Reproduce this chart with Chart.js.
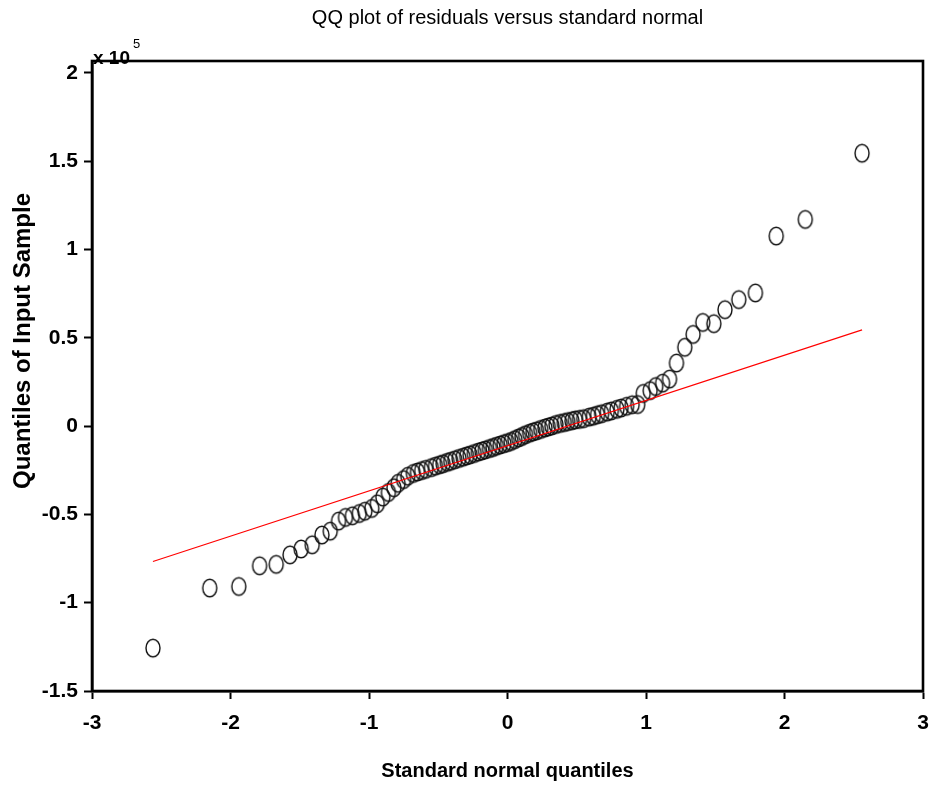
<!DOCTYPE html>
<html>
<head>
<meta charset="utf-8">
<script src="https://cdn.jsdelivr.net/npm/chart.js@4/dist/chart.umd.min.js"></script>
<style>
  html, body { margin: 0; padding: 0; background: #fff; }
  canvas { display: block; }
</style>
</head>
<body>
<canvas id="qq" width="933" height="789"></canvas>
<script>
// theoretical standard normal quantiles (x) and sorted residuals (y)
var normalQuantiles = [
    -2.56, -2.15, -1.94, -1.79, -1.67, -1.57, -1.49, -1.41, -1.34, -1.28,
    -1.22, -1.17, -1.12, -1.07, -1.03, -0.98, -0.94, -0.90, -0.86, -0.82,
    -0.79, -0.75, -0.72, -0.68, -0.65, -0.62, -0.59, -0.55, -0.52, -0.49,
    -0.465, -0.435, -0.41, -0.38, -0.35, -0.32, -0.295, -0.27, -0.24, -0.21,
    -0.185, -0.16, -0.13, -0.105, -0.08, -0.053, -0.026, 0,
    0.026, 0.053, 0.08, 0.105, 0.13, 0.16, 0.185, 0.21, 0.24, 0.27,
    0.295, 0.32, 0.35, 0.38, 0.41, 0.435, 0.465, 0.49, 0.52, 0.55,
    0.59, 0.62, 0.65, 0.68, 0.72, 0.75, 0.79, 0.82, 0.86, 0.90,
    0.94, 0.98, 1.03, 1.07, 1.12, 1.17, 1.22, 1.28, 1.34, 1.41,
    1.49, 1.57, 1.67, 1.79, 1.94, 2.15, 2.56
];

var residuals = [
    -125700, -91700, -90800, -79100, -78300, -72900, -69600, -67200, -61700, -59500,
    -53800, -51700, -50800, -49500, -48200, -46600, -44000, -40200, -37600, -34900,
    -32400, -30300, -28400, -26800, -26000, -25200, -24500, -23500, -22700, -21900,
    -21300, -20500, -19900, -19100, -18300, -17600, -16900, -16300, -15500, -14700,
    -14100, -13500, -12700, -12100, -11400, -10700, -10000, -9400,
    -8700, -7700, -6700, -5900, -4900, -4000, -3300, -2700, -1900, -1100,
    -500, 100, 900, 1500, 2000, 2500, 3000, 3500, 3800, 4200,
    5100, 5600, 6400, 7000, 7900, 8600, 9500, 10200, 11200, 12100,
    12200, 18500, 20100, 22400, 24300, 26600, 35700, 44600, 51900, 58700,
    58000, 65900, 71600, 75400, 107600, 117000, 154500
];

// reference line end points
var lineX = [-2.56, 2.56];
var lineY = [-76700, 54500];

var xTicks = [-3, -2, -1, 0, 1, 2, 3];
var yTicks = [-150000, -100000, -50000, 0, 50000, 100000, 150000, 200000];

var FONT = '"Liberation Sans", Arial, sans-serif';

var qqPoints = [];
for (var i = 0; i < normalQuantiles.length; i++) {
    qqPoints.push({x: normalQuantiles[i], y: residuals[i]});
}
var refLine = [];
for (var j = 0; j < lineX.length; j++) {
    refLine.push({x: lineX[j], y: lineY[j]});
}

// open marker, a bit taller than wide
var marker = document.createElement('canvas');
marker.width = 20;
marker.height = 24;
var mctx = marker.getContext('2d');
mctx.strokeStyle = '#111';
mctx.lineWidth = 1.4;
mctx.beginPath();
mctx.ellipse(10, 12, 7, 8.8, 0, 0, Math.PI * 2);
mctx.stroke();

// box around the plot, y label and the exponent
var frame = {
    id: 'frame',
    afterDraw: function (chart) {
        var a = chart.chartArea;
        var ctx = chart.ctx;
        ctx.save();
        ctx.strokeStyle = '#000';
        ctx.lineWidth = 2.6;
        ctx.strokeRect(a.left, a.top, a.right - a.left, a.bottom - a.top);

        ctx.fillStyle = '#000';
        ctx.font = 'bold 19px ' + FONT;
        ctx.textAlign = 'left';
        ctx.textBaseline = 'alphabetic';
        ctx.fillText('x 10', a.left + 1, a.top + 3);
        ctx.font = '13px ' + FONT;
        ctx.fillText('5', a.left + 41, a.top - 13);

        ctx.translate(23, 341);
        ctx.rotate(-Math.PI / 2);
        ctx.font = 'bold 24px ' + FONT;
        ctx.textAlign = 'center';
        ctx.textBaseline = 'middle';
        ctx.fillText('Quantiles of Input Sample', 0, 0);
        ctx.restore();
    }
};

var ctx = document.getElementById('qq').getContext('2d');
new Chart(ctx, {
    type: 'scatter',
    data: {
        datasets: [
            {
                type: 'line',
                data: refLine,
                borderColor: '#ff0000',
                borderWidth: 1.2,
                pointRadius: 0,
                fill: false,
                order: 0
            },
            {
                data: qqPoints,
                pointStyle: marker,
                pointRadius: 9,
                order: 1
            }
        ]
    },
    options: {
        responsive: false,
        devicePixelRatio: 1,
        animation: false,
        layout: {padding: {top: 0, right: 1, left: 0, bottom: 0}},
        plugins: {
            legend: {display: false},
            tooltip: {enabled: false},
            title: {
                display: true,
                fullSize: false,
                text: 'QQ plot of residuals versus standard normal',
                color: '#000',
                font: {family: FONT, size: 20, weight: 'normal'},
                padding: {top: 6, bottom: 31}
            }
        },
        scales: {
            x: {
                type: 'linear',
                min: -3,
                max: 3,
                afterFit: function (s) {
                    s.height = 98;
                    s.paddingLeft = 0;
                    s.paddingRight = 0;
                },
                afterBuildTicks: function (s) {
                    s.ticks = xTicks.map(function (v) { return {value: v}; });
                },
                ticks: {
                    color: '#000',
                    font: {family: FONT, size: 21, weight: 'bold'},
                    padding: 12,
                    maxRotation: 0
                },
                grid: {display: true, drawOnChartArea: false, drawTicks: true, tickLength: 8, tickWidth: 2, tickColor: '#000'},
                border: {display: true, color: '#000', width: 2.6},
                title: {
                    display: true,
                    text: 'Standard normal quantiles',
                    color: '#000',
                    font: {family: FONT, size: 20, weight: 'bold'},
                    padding: {top: 0, bottom: 6}
                }
            },
            y: {
                type: 'linear',
                min: -150000,
                max: 206700,
                afterFit: function (s) {
                    s.width = 92;
                    s.paddingTop = 0;
                    s.paddingBottom = 0;
                },
                afterBuildTicks: function (s) {
                    s.ticks = yTicks.map(function (v) { return {value: v}; });
                },
                ticks: {
                    color: '#000',
                    font: {family: FONT, size: 21, weight: 'bold'},
                    padding: 6,
                    callback: function (v) { return String(v / 100000); }
                },
                grid: {display: true, drawOnChartArea: false, drawTicks: true, tickLength: 8, tickWidth: 2, tickColor: '#000'},
                border: {display: true, color: '#000', width: 2.6}
            }
        }
    },
    plugins: [frame]
});
</script>
</body>
</html>
